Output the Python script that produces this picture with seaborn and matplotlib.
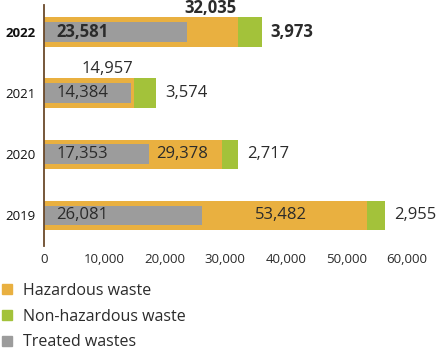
import pandas as pd
import seaborn as sns
import matplotlib.pyplot as plt
from matplotlib.patches import Patch

# === Data ===
years = ['2022', '2021', '2020', '2019']
hazardous = [32035, 14957, 29378, 53482]
non_hazardous = [3973, 3574, 2717, 2955]
treated = [23581, 14384, 17353, 26081]
bold_years = ['2022']

orange = '#E9B040'
green = '#A3C23A'
gray = '#9C9C9C'
text_col = '#2b2b2b'

df = pd.DataFrame({'year': years, 'hazardous': hazardous,
                   'non_hazardous': non_hazardous, 'treated': treated})
df['total'] = df['hazardous'] + df['non_hazardous']

sns.set_style('white')
plt.rcParams['font.family'] = ['Open Sans', 'DejaVu Sans']

fig = plt.figure(figsize=(4.44, 3.52), dpi=100)
ax = fig.add_axes([44 / 444, 106 / 352, 399 / 444, 241 / 352])

# stacked: green total underneath, orange hazardous over it, grey treated narrower on top
bar_kw = dict(orient='h', saturation=1, linewidth=0, ax=ax)
sns.barplot(data=df, x='total', y='year', color=green, width=0.48, **bar_kw)
sns.barplot(data=df, x='hazardous', y='year', color=orange, width=0.48, **bar_kw)
sns.barplot(data=df, x='treated', y='year', color=gray, width=0.32, **bar_kw)

ax.set_xlim(0, 66000)
ax.set_ylim(3.5, -0.44)
ax.set_xlabel('')
ax.set_ylabel('')

for s in ['top', 'right', 'bottom']:
    ax.spines[s].set_visible(False)
ax.spines['left'].set_color('#6B4A2B')
ax.spines['left'].set_linewidth(1.3)

ax.set_xticks(range(0, 60001, 10000))
ax.set_xticklabels([f'{v:,}' for v in range(0, 60001, 10000)])
ax.tick_params(axis='x', length=0, pad=5, labelsize=9.5, labelcolor=text_col)
ax.tick_params(axis='y', length=0, pad=6, labelsize=9.5, labelcolor='#111111')
for lbl in ax.get_yticklabels():
    if lbl.get_text() in bold_years:
        lbl.set_fontweight('bold')

# value labels
for i, row in df.iterrows():
    weight = 'bold' if row['year'] in bold_years else 'normal'
    kw = dict(fontsize=12, color=text_col, fontweight=weight, va='center')
    # treated, inside grey bar
    ax.text(2000, i, f"{row['treated']:,}", ha='left', **kw)
    # non-hazardous, right of the stack
    ax.annotate(f"{row['non_hazardous']:,}", (row['total'], i),
                xytext=(6.5, 0), textcoords='offset points', ha='left', **kw)
    # hazardous: inside the orange part if room, otherwise above the bar
    gap = row['hazardous'] - row['treated']
    if gap > 9000:
        ax.text((row['hazardous'] + row['treated']) / 2 - 600, i,
                f"{row['hazardous']:,}", ha='center', **kw)
    else:
        ax.annotate(f"{row['hazardous']:,}", (row['hazardous'], i - 0.24),
                    xytext=(-1, 7), textcoords='offset points', ha='right', **kw)

handles = [Patch(color=orange, label='Hazardous waste'),
           Patch(color=green, label='Non-hazardous waste'),
           Patch(color=gray, label='Treated wastes')]
fig.legend(handles=handles, loc='upper left', bbox_to_anchor=(0.004, 0.197),
           frameon=False, fontsize=11.5, handlelength=0.65, handleheight=0.65,
           handletextpad=0.65, labelspacing=0.62, borderpad=0, borderaxespad=0,
           labelcolor=text_col)

fig.savefig('out.png', dpi=100)
